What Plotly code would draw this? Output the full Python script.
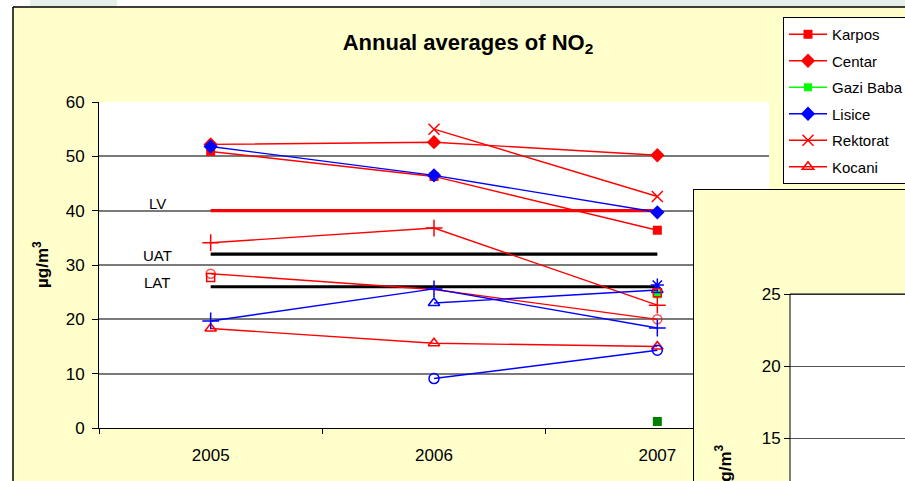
import plotly.graph_objects as go

W, H = 905, 481

# ---------------- data ----------------
years = ["2005", "2006", "2007"]

karpos = [50.9, 46.3, 36.4]
centar = [52.2, 52.6, 50.2]
gazi_baba = [None, None, 24.6]
lisice = [51.8, 46.5, 39.7]
rektorat = [None, 55.0, 42.6]
kocani = [18.3, 15.6, 15.0]
kumanovo = [34.1, 36.8, 22.6]
kicevo = [28.4, 25.5, 20.0]
bitola = [19.7, 25.6, 18.4]
tetovo = [None, 23.0, 25.4]
veles = [None, 9.1, 14.3]
kavadarci = [None, None, 26.3]
strumica = [27.7, None, 24.9]
miladinovci = [None, None, 1.2]

lv_values = [40, 40, 40]
uat_values = [32, 32, 32]
lat_values = [26, 26, 26]
threshold_labels = ["LV", "UAT", "LAT"]

y_ticks = [0, 10, 20, 30, 40, 50, 60]
chart2_ticks = [15, 20, 25]
chart2_ticklabels = ["15", "20", "25"]

FONT = "Arial, 'Liberation Sans', sans-serif"
RED, BLUE, LIME, DGREEN = "#FF0000", "#0000FF", "#00FF00", "#008000"


def px(x):
    return x / W


def py(y):
    return 1 - y / H


fig = go.Figure()

series = [
    ("Karpos", karpos, RED, "square", 9, True),
    ("Centar", centar, RED, "diamond", 11, True),
    ("Gazi Baba\u00a0\u00a0", gazi_baba, LIME, "square", 8, True),
    ("Lisice", lisice, BLUE, "diamond", 11, True),
    ("Rektorat", rektorat, RED, "x-thin-open", 11, True),
    ("Kocani", kocani, RED, "triangle-up-open", 10, True),
    ("Kumanovo", kumanovo, RED, "cross-thin-open", 12, False),
    ("Kicevo", kicevo, RED, "circle-open", [9, 0, 9], False),
    ("Bitola", bitola, BLUE, "cross-thin-open", 12, False),
    ("Tetovo", tetovo, BLUE, "triangle-up-open", 10, False),
    ("Veles", veles, BLUE, "circle-open", 10, False),
    ("Kavadarci", kavadarci, BLUE, "asterisk-open", 11, False),
    ("Strumica", strumica, RED, "square-open", 8, False),
    ("Miladinovci", miladinovci, DGREEN, "square", 9, False),
]

# threshold lines first (under the series)
for vals, col in [(lv_values, RED), (uat_values, "black"), (lat_values, "black")]:
    fig.add_trace(go.Scatter(x=years, y=vals, mode="lines",
                             line=dict(color=col, width=3.2),
                             showlegend=False, hoverinfo="skip",
                             xaxis="x", yaxis="y"))

for i, (name, vals, col, sym, size, leg) in enumerate(series):
    is_open = "open" in sym
    fig.add_trace(go.Scatter(
        x=years, y=vals, name=name, mode="lines+markers",
        line=dict(color=col, width=1.4),
        marker=dict(symbol=sym, size=size, color=col,
                    line=dict(color=col, width=1.5 if is_open else 0)),
        showlegend=leg, legendgroup="g%d" % i,
        xaxis="x", yaxis="y"))

# threshold labels
for lab, vals, yoff in zip(threshold_labels, [lv_values, uat_values, lat_values], [1.3, -0.3, 0.8]):
    fig.add_annotation(x=-0.24, y=vals[0] + yoff, xref="x", yref="y", text=lab,
                       showarrow=False, font=dict(family=FONT, size=15, color="black"))

shapes = []
# slide background strips around the chart
shapes.append(dict(type="rect", xref="paper", yref="paper", x0=0, x1=1, y0=py(7), y1=1,
                   fillcolor="white", line=dict(width=0), layer="below"))
for a, b in [(30, 117), (480, 905)]:
    shapes.append(dict(type="rect", xref="paper", yref="paper", x0=px(a), x1=px(b), y0=py(7), y1=1,
                       fillcolor="#e4f0e8", line=dict(width=0), layer="below"))
shapes.append(dict(type="rect", xref="paper", yref="paper", x0=0, x1=px(13), y0=0, y1=1,
                   fillcolor="white", line=dict(width=0), layer="below"))
shapes.append(dict(type="line", xref="paper", yref="paper", x0=px(13), x1=px(13), y0=0, y1=py(7),
                   line=dict(color="black", width=1.5), layer="below"))
shapes.append(dict(type="line", xref="paper", yref="paper", x0=px(13), x1=1, y0=py(7), y1=py(7),
                   line=dict(color="black", width=1.5), layer="below"))

# second (overlapping) chart frame, drawn in its own subplot above the first one
y2_top = 25 + (294 - 189) / 14.4
y2_bot = 15 - (481 - 438) / 14.4
shapes.append(dict(type="path", xref="x2", yref="y2", layer="between",
                   path="M693,{t} L910,{t} L910,25 L790,25 L790,{b} L693,{b} Z".format(t=y2_top + 1, b=y2_bot - 1),
                   fillcolor="#FFFFCC", line=dict(width=0)))
shapes.append(dict(type="line", xref="x2", yref="y2", layer="between", x0=693, x1=693, y0=y2_bot - 1, y1=y2_top,
                   line=dict(color="black", width=2)))
shapes.append(dict(type="line", xref="x2", yref="y2", layer="between", x0=693, x1=910, y0=y2_top, y1=y2_top,
                   line=dict(color="black", width=2)))
shapes.append(dict(type="line", xref="x2", yref="y2", layer="between", x0=790, x1=910, y0=25, y1=25,
                   line=dict(color="black", width=1)))
shapes.append(dict(type="line", xref="x2", yref="y2", layer="between", x0=790, x1=790, y0=y2_bot - 1, y1=25,
                   line=dict(color="black", width=1)))

fig.update_layout(
    width=W, height=H, autosize=False,
    margin=dict(l=0, r=0, t=0, b=0, pad=0, autoexpand=False),
    paper_bgcolor="#FFFFCC", plot_bgcolor="white",
    font=dict(family=FONT, color="black"),
    title=dict(text="<b>Annual averages of NO<sub>2</sub></b>", x=px(468), y=py(42),
               xref="paper", yref="paper", xanchor="center", yanchor="middle",
               font=dict(family=FONT, size=22, color="black"), automargin=False),
    xaxis=dict(type="category", domain=[px(99), px(769)], range=[-0.5, 2.5], anchor="y",
               showline=True, linecolor="black", linewidth=1, ticks="outside", tickson="boundaries",
               ticklen=5, tickcolor="black", showgrid=False, zeroline=False, automargin=False,
               tickfont=dict(family=FONT, size=17), ticklabelstandoff=12),
    yaxis=dict(domain=[py(428), py(102)], range=[0, 60], tickvals=y_ticks, anchor="x",
               showline=True, linecolor="black", linewidth=1, ticks="outside", ticklen=6,
               tickcolor="black", showgrid=True, gridcolor="#7a7a7a", gridwidth=1.5,
               zeroline=False, automargin=False, tickfont=dict(family=FONT, size=17),
               ticklabelstandoff=4),
    xaxis2=dict(domain=[px(693), 1], range=[693, 905], anchor="y2", visible=False, automargin=False),
    yaxis2=dict(domain=[0, py(189)], range=[y2_bot, y2_top], anchor="free", position=px(790),
                tickvals=chart2_ticks, ticktext=chart2_ticklabels, ticks="outside", ticklen=6,
                tickcolor="black", showline=False, showgrid=True, gridcolor="#555555", gridwidth=1,
                zeroline=False, automargin=False, tickfont=dict(family=FONT, size=17)),
    legend=dict(x=px(783), y=py(17), xanchor="left", yanchor="top", xref="paper", yref="paper",
                bgcolor="white", bordercolor="black", borderwidth=1,
                font=dict(family=FONT, size=15, color="black"), tracegroupgap=4,
                traceorder="grouped", itemwidth=38),
    shapes=shapes,
    showlegend=True,
)

fig.add_annotation(x=px(28), y=py(265), xref="paper", yref="paper", text="<b>µg/m<sup>3</sup></b>",
                   textangle=-90, showarrow=False, font=dict(family=FONT, size=17, color="black"))
fig.add_annotation(x=px(736), y=py(494), xref="paper", yref="paper", text="<b>µg/m<sup>3</sup></b>",
                   textangle=-90, showarrow=False, font=dict(family=FONT, size=17, color="black"))

fig.write_html("out.html", config={"displayModeBar": False},
               post_script="document.body.style.margin='0';document.body.style.overflow='hidden';")
